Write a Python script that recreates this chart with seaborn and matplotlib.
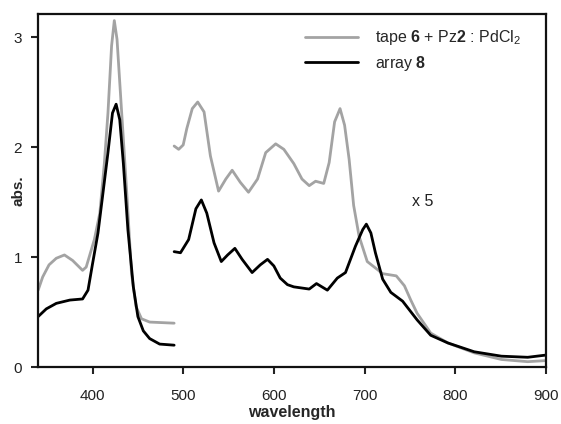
import pandas as pd
import seaborn as sns
import matplotlib.pyplot as plt

# UV region (Soret band)
wl_uv_tape = [340, 345, 352, 360, 369, 378, 389, 393, 402, 408, 413, 417, 421, 424, 427, 431, 434, 438, 443, 448, 454, 463, 490]
abs_uv_tape = [0.70, 0.82, 0.93, 0.99, 1.02, 0.97, 0.88, 0.91, 1.16, 1.40, 1.85, 2.31, 2.92, 3.15, 2.98, 2.46, 2.07, 1.55, 0.85, 0.55, 0.44, 0.41, 0.40]

wl_uv_array = [340, 349, 360, 375, 389, 395, 400, 406, 411, 417, 422, 426, 430, 434, 439, 445, 450, 456, 463, 474, 490]
abs_uv_array = [0.46, 0.53, 0.58, 0.61, 0.62, 0.70, 0.94, 1.22, 1.55, 1.95, 2.31, 2.39, 2.25, 1.85, 1.25, 0.73, 0.46, 0.33, 0.26, 0.21, 0.20]

# visible/NIR region (x 5)
wl_vis_tape = [490, 495, 500, 504, 510, 516, 523, 530, 539, 547, 554, 563, 572, 582, 591, 602, 611, 622, 631, 639, 646, 655, 661, 667, 673, 678, 683, 688, 694, 703, 720, 735, 744, 751, 758, 773, 792, 821, 851, 880, 900]
abs_vis_tape = [2.01, 1.98, 2.02, 2.17, 2.35, 2.41, 2.32, 1.92, 1.60, 1.71, 1.79, 1.68, 1.59, 1.71, 1.95, 2.03, 1.98, 1.85, 1.71, 1.65, 1.69, 1.67, 1.86, 2.23, 2.35, 2.20, 1.89, 1.47, 1.19, 0.96, 0.85, 0.83, 0.74, 0.61, 0.49, 0.31, 0.22, 0.13, 0.07, 0.05, 0.06]

wl_vis_array = [490, 497, 506, 514, 520, 526, 534, 542, 549, 557, 565, 576, 585, 593, 600, 607, 615, 622, 639, 647, 659, 670, 679, 690, 698, 702, 707, 712, 720, 729, 742, 758, 773, 792, 821, 851, 880, 900]
abs_vis_array = [1.05, 1.04, 1.16, 1.44, 1.52, 1.40, 1.13, 0.96, 1.02, 1.08, 0.98, 0.86, 0.93, 0.98, 0.92, 0.81, 0.75, 0.73, 0.71, 0.76, 0.70, 0.81, 0.86, 1.10, 1.25, 1.30, 1.22, 1.04, 0.80, 0.68, 0.60, 0.43, 0.29, 0.22, 0.14, 0.10, 0.09, 0.11]

labels = [r'tape $\mathbf{6}$ + Pz$\mathbf{2}$ : PdCl$_2$', r'array $\mathbf{8}$']
colors = ['#a3a3a3', '#000000']

sns.set_style("ticks")
plt.rcParams['font.family'] = ['Liberation Sans', 'DejaVu Sans']
plt.rcParams['mathtext.fontset'] = 'custom'
plt.rcParams['mathtext.rm'] = 'Liberation Sans'
plt.rcParams['mathtext.bf'] = 'Liberation Sans:bold'

fig = plt.figure(figsize=(5.61, 4.24), dpi=100)
ax = fig.add_axes([0.068, 0.134, 0.905, 0.833])

segments = [
    (wl_uv_tape, abs_uv_tape, 0, True),
    (wl_vis_tape, abs_vis_tape, 0, False),
    (wl_uv_array, abs_uv_array, 1, True),
    (wl_vis_array, abs_vis_array, 1, False),
]
for wl, ab, i, lab in segments:
    df = pd.DataFrame({'wavelength': wl, 'abs': ab})
    sns.lineplot(data=df, x='wavelength', y='abs', ax=ax, color=colors[i],
                 linewidth=2, label=labels[i] if lab else None, sort=False)

ax.text(764, 1.51, 'x 5', fontsize=11.5, ha='center', va='center', color='#222222')

ax.set_xlim(340, 900)
ax.set_ylim(0, 3.21)
ax.set_xticks([400, 500, 600, 700, 800, 900])
ax.set_yticks([0, 1, 2, 3])
ax.set_xlabel('wavelength', fontsize=11.5, fontweight='bold', labelpad=1.5)
ax.set_ylabel('abs.', fontsize=11, fontweight='bold')
ax.yaxis.set_label_coords(-0.025, 0.5)
ax.tick_params(direction='out', length=5, width=1.5, labelsize=11, colors='#222222', pad=6.5)
ax.tick_params(axis='x', pad=11)
for s in ax.spines.values():
    s.set_linewidth(1.6)
    s.set_color('#111111')

ax.legend(loc='upper right', bbox_to_anchor=(0.98, 1.0), frameon=False,
          fontsize=11.5, handlelength=3.3, handletextpad=1.1, labelspacing=0.4)

fig.savefig('out.png', dpi=100)
